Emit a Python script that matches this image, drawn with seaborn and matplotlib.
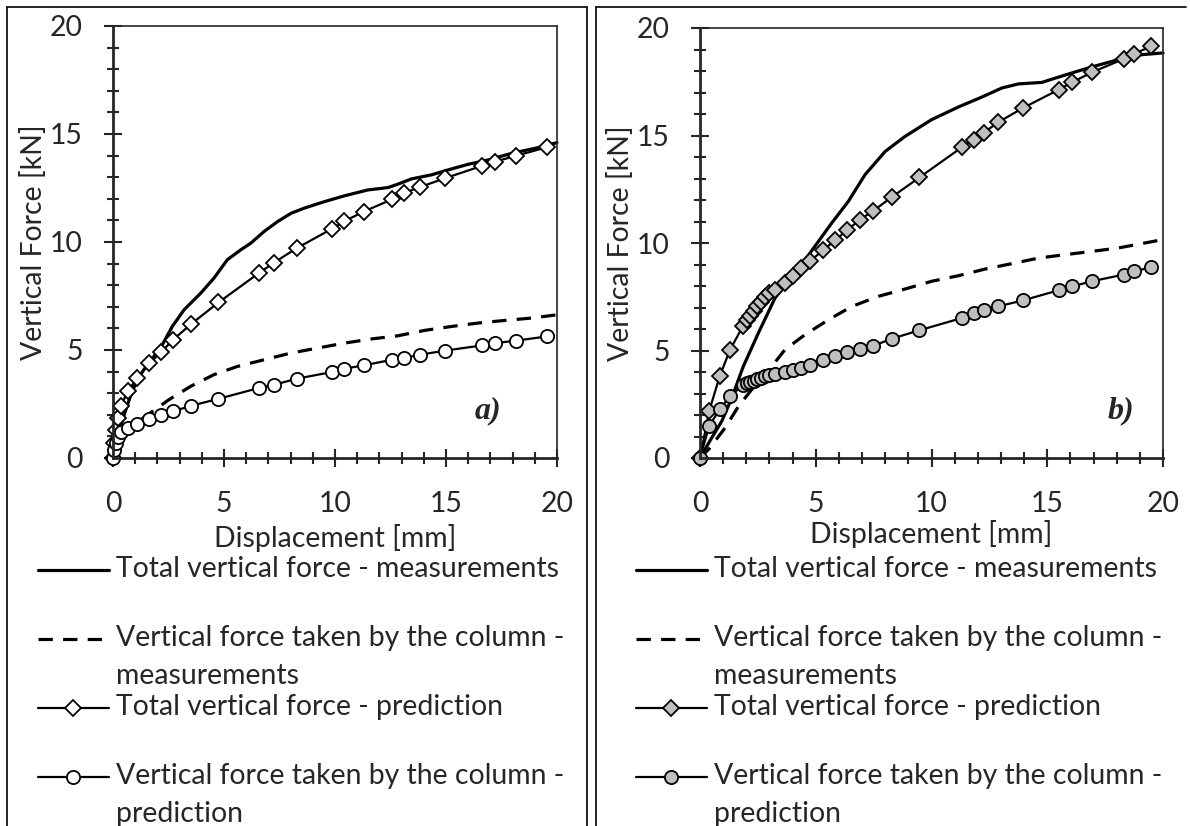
import numpy as np
import matplotlib
matplotlib.use("Agg")
import matplotlib.pyplot as plt
import seaborn as sns
from matplotlib.lines import Line2D
from matplotlib.legend_handler import HandlerLine2D
from matplotlib.ticker import MultipleLocator

# ---- panel a) ----
a_meas_x = [0, 0.12, 0.26, 0.48, 0.78, 1.09, 1.39, 1.84, 2.22, 2.67, 3.20, 3.95, 4.55, 5.15, 5.76, 6.21,
            6.81, 7.42, 8.02, 8.62, 9.53, 10.43, 11.48, 12.39, 12.84, 13.44, 14.35, 15.10, 16.01, 16.91,
            17.97, 19.02, 20.0]
a_meas_total = [0, 0.45, 1.08, 1.93, 2.85, 3.62, 4.09, 4.70, 5.24, 6.09, 6.86, 7.63, 8.33, 9.18, 9.64, 9.95,
                10.49, 10.95, 11.33, 11.57, 11.87, 12.14, 12.41, 12.52, 12.68, 12.92, 13.11, 13.34, 13.60,
                13.80, 14.11, 14.34, 14.60]
a_col_x = [0, 0.4, 1.0, 1.7, 2.52, 3.50, 4.55, 5.61, 6.81, 8.02, 9.22, 10.43, 11.63, 12.84, 14.05, 15.25,
           16.46, 17.66, 18.87, 20.0]
a_meas_col = [0, 0.9, 1.6, 2.1, 2.70, 3.32, 3.86, 4.24, 4.55, 4.86, 5.09, 5.32, 5.51, 5.66, 5.91, 6.09,
              6.25, 6.37, 6.48, 6.63]
a_pred_x = [0, 0.06, 0.12, 0.21, 0.36, 0.66, 1.09, 1.64, 2.17, 2.70, 3.53, 4.75, 6.57, 7.26, 8.27, 9.86,
            10.40, 11.30, 12.58, 13.10, 13.82, 14.95, 16.61, 17.21, 18.15, 19.55]
a_pred_total = [0, 0.7, 1.31, 1.85, 2.42, 3.08, 3.70, 4.39, 4.90, 5.47, 6.21, 7.20, 8.56, 9.05, 9.71, 10.61,
                10.95, 11.41, 11.98, 12.26, 12.54, 12.95, 13.52, 13.72, 13.99, 14.39]
a_pred_col = [0, 0.39, 0.69, 0.97, 1.20, 1.39, 1.59, 1.82, 2.00, 2.16, 2.42, 2.74, 3.24, 3.39, 3.67, 3.98,
              4.13, 4.29, 4.55, 4.63, 4.78, 4.97, 5.21, 5.32, 5.43, 5.63]

# ---- panel b) ----
b_meas_x = [0, 0.50, 0.94, 1.37, 1.87, 2.52, 3.24, 3.96, 4.54, 5.12, 5.69, 6.41, 7.13, 8.00, 8.86, 10.01,
            11.17, 12.18, 13.04, 13.76, 14.77, 15.35, 16.07, 16.93, 17.80, 18.37, 19.09, 20.0]
b_meas_total = [0, 0.93, 1.71, 2.79, 4.26, 5.81, 7.44, 8.45, 9.22, 10.08, 10.93, 11.94, 13.18, 14.26, 14.96,
                15.74, 16.33, 16.79, 17.21, 17.40, 17.47, 17.67, 17.91, 18.19, 18.45, 18.65, 18.76, 18.84]
b_col_x = [0, 0.43, 1.08, 1.66, 2.23, 3.10, 3.67, 4.54, 5.55, 6.56, 7.71, 8.86, 10.01, 11.17, 12.32, 13.47,
           14.63, 15.78, 16.93, 18.08, 20.0]
b_meas_col = [0, 0.47, 1.40, 2.40, 3.18, 4.26, 5.04, 5.74, 6.43, 7.05, 7.52, 7.86, 8.22, 8.48, 8.79, 9.04,
              9.30, 9.46, 9.61, 9.77, 10.16]
b_pred_x = [0, 0.40, 0.86, 1.30, 1.87, 2.03, 2.18, 2.33, 2.48, 2.63, 2.80, 2.97, 3.24, 3.67, 4.03, 4.37,
            4.76, 5.30, 5.84, 6.34, 6.92, 7.49, 8.29, 9.48, 11.31, 11.82, 12.25, 12.87, 13.95, 15.49,
            16.07, 16.93, 18.30, 18.76, 19.50]
b_pred_total = [0, 2.2, 3.83, 5.04, 6.16, 6.40, 6.62, 6.84, 7.05, 7.26, 7.47, 7.66, 7.80, 8.14, 8.45, 8.84,
                9.15, 9.66, 10.12, 10.59, 11.09, 11.50, 12.14, 13.05, 14.45, 14.81, 15.12, 15.61, 16.28,
                17.13, 17.47, 17.94, 18.56, 18.81, 19.15]
b_pred_col = [0, 1.50, 2.28, 2.87, 3.41, 3.47, 3.53, 3.60, 3.66, 3.72, 3.80, 3.88, 3.91, 4.00, 4.11, 4.19,
              4.34, 4.57, 4.73, 4.93, 5.07, 5.22, 5.55, 5.94, 6.51, 6.74, 6.87, 7.05, 7.33, 7.80, 7.98,
              8.22, 8.53, 8.68, 8.88]

legend_labels = ["Total vertical force - measurements\n ",
                 "Vertical force taken by the column -\nmeasurements",
                 "Total vertical force - prediction\n ",
                 "Vertical force taken by the column -\nprediction"]

sns.set_style("ticks")
plt.rcParams['font.family'] = ['Lato', 'DejaVu Sans']

W, H = 1190, 826
FS = 20.4
LINE_PITCH = 1.31  # in em, spacing of the two text lines in a legend entry


class FirstLineHandler(HandlerLine2D):
    # put the legend sample level with the first line of a two-line label
    def create_artists(self, legend, orig_handle, xdescent, ydescent, width, height, fontsize, trans):
        arts = super().create_artists(legend, orig_handle, xdescent, ydescent, width, height, fontsize, trans)
        for art in arts:
            art.set_ydata(np.asarray(art.get_ydata(), dtype=float) + 0.5 * LINE_PITCH * fontsize)
        return arts


fig = plt.figure(figsize=(W / 100, H / 100), dpi=100)
ax_a = fig.add_axes([113 / W, 1 - 458 / H, 444 / W, 432 / H])
ax_b = fig.add_axes([700 / W, 1 - 458 / H, 463 / W, 430 / H])


def draw_panel(ax, mx, mtot, cx, mcol, px, ptot, pcol, face):
    common = dict(ax=ax, color="black", estimator=None, sort=False, legend=False, clip_on=False)
    sns.lineplot(x=mx, y=mtot, linewidth=2.3, **common)
    sns.lineplot(x=cx, y=mcol, linewidth=2.3, linestyle=(0, (4.5, 3.2)), **common)
    sns.lineplot(x=px, y=ptot, linewidth=1.6, marker="D", markersize=8.5,
                 markerfacecolor=face, markeredgecolor="black", markeredgewidth=1.3, **common)
    sns.lineplot(x=px, y=pcol, linewidth=1.6, marker="o", markersize=9.5,
                 markerfacecolor=face, markeredgecolor="black", markeredgewidth=1.3, **common)

    ax.set_xlim(0, 20)
    ax.set_ylim(0, 20)
    ax.xaxis.set_major_locator(MultipleLocator(5))
    ax.xaxis.set_minor_locator(MultipleLocator(1))
    ax.yaxis.set_major_locator(MultipleLocator(5))
    ax.yaxis.set_minor_locator(MultipleLocator(1))
    ax.tick_params(which="major", direction="inout", length=13, width=1.5, labelsize=FS)
    ax.tick_params(which="minor", direction="inout", length=9, width=1.5)
    ax.tick_params(axis="x", which="major", pad=17.5)
    ax.tick_params(axis="y", which="major", pad=15.5)
    for side in ["left", "bottom"]:
        ax.spines[side].set_linewidth(2.0)
    for side in ["top", "right"]:
        ax.spines[side].set_linewidth(1.2)
    ax.set_xlabel("Displacement [mm]", fontsize=FS)
    ax.set_ylabel("Vertical Force [kN]", fontsize=FS)
    ax.grid(False)


draw_panel(ax_a, a_meas_x, a_meas_total, a_col_x, a_meas_col, a_pred_x, a_pred_total, a_pred_col, "white")
draw_panel(ax_b, b_meas_x, b_meas_total, b_col_x, b_meas_col, b_pred_x, b_pred_total, b_pred_col, "#bfbfbf")

ax_a.xaxis.set_label_coords(0.5, -(524 - 458) / 432)
ax_a.yaxis.set_label_coords(-(113 - 47) / 444, 0.5)
ax_b.xaxis.set_label_coords(0.5, -(520 - 458) / 430)
ax_b.yaxis.set_label_coords(-(700 - 634) / 463, 0.5)

serif = dict(fontsize=23, fontweight="bold", fontstyle="italic", family=["Liberation Serif", "DejaVu Serif"],
             ha="center", va="center")
ax_a.text(16.9, 2.2, "a)", **serif)
ax_b.text(18.2, 2.2, "b)", **serif)

# legends under each chart
for ax, lx in [(ax_a, 38), (ax_b, 636)]:
    leg = fig.legend(ax.get_lines()[:4], legend_labels, loc="upper left",
                     bbox_to_anchor=(lx / W, 1 - 556 / H), bbox_transform=fig.transFigure,
                     frameon=False, fontsize=FS, numpoints=1, handlelength=2.5, handletextpad=0.27,
                     borderpad=0, borderaxespad=0, labelspacing=0.15,
                     handler_map={Line2D: FirstLineHandler()})
    for t in leg.get_texts():
        t.set_linespacing(1.6)

# table borders around the two cells
border = dict(color="black", linewidth=1.2, transform=fig.transFigure)
for x in [7, 587, 596]:
    fig.add_artist(Line2D([x / W, x / W], [0, 1 - 7 / H], **border))
fig.add_artist(Line2D([7 / W, 587 / W], [1 - 7 / H, 1 - 7 / H], **border))
fig.add_artist(Line2D([596 / W, 1186 / W], [1 - 7 / H, 1 - 7 / H], **border))

fig.savefig("out.png", dpi=100)
